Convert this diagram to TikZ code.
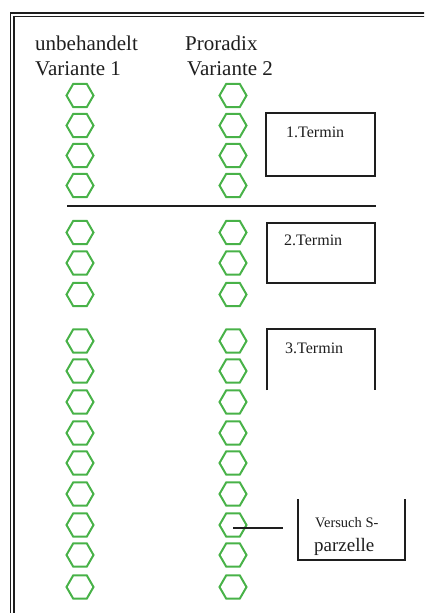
\documentclass[tikz,border=0pt]{standalone}
\usepackage{fontspec}
\setmainfont{Liberation Serif}
\usetikzlibrary{shapes.geometric}
\definecolor{hexgreen}{RGB}{72,178,72}
\definecolor{ink}{RGB}{30,30,30}
\tikzset{
  hexa/.style={draw=hexgreen, line width=2pt, regular polygon, regular polygon sides=6, inner sep=0pt, minimum size=27pt},
  frameline/.style={draw=ink, line width=1.5pt},
  boxline/.style={draw=ink, line width=1.8pt},
  head/.style={font=\fontsize{21}{21}\selectfont, text=ink, inner sep=0pt, anchor=base west},
  termin/.style={font=\fontsize{16}{16}\selectfont, text=ink, inner sep=0pt, anchor=base west}
}
\begin{document}
\begin{tikzpicture}[x=1pt,y=-1pt]
\useasboundingbox (0,0) rectangle (424,613);
\clip (0,0) rectangle (424,613);
% frame (double line, top and left)
\draw[frameline] (10.5,613) -- (10.5,13) -- (430,13);
\draw[frameline] (14,613) -- (14,16.5) -- (430,16.5);
% headings
\node[head] (h1) at (35,50) {unbehandelt};
\node[head] (h2) at (35,75) {Variante 1};
\node[head] (h3) at (185,50) {Proradix};
\node[head] (h4) at (187,75) {Variante 2};
% hexagons
\foreach \y [count=\i] in {95.5,125.5,155.5,185.5,232.5,263,294.5,341,371,402,433,463,494,525,555,587}{
  \node[hexa] (a\i) at (80,\y) {};
  \node[hexa] (b\i) at (233,\y) {};
}
% separator line
\coordinate (sepL) at (67,206);
\coordinate (sepR) at (376,206);
\draw[boxline] (sepL) -- (sepR);
% box 1
\draw[boxline] (266,113) rectangle (375,176);
\node[termin] (t1) at (286,137) {1.Termin};
% box 2
\draw[boxline] (267,223) rectangle (375,283);
\node[termin] (t2) at (284,245) {2.Termin};
% box 3 (open at bottom)
\draw[boxline] (267,390) -- (267,329) -- (375,329) -- (375,390);
\node[termin] (t3) at (285,353) {3.Termin};
% box 4 (open at top)
\draw[boxline] (298,499) -- (298,560) -- (405,560) -- (405,499);
\node[inner sep=0pt, anchor=base west, text=ink, font=\fontsize{14.5}{14.5}\selectfont] (v1) at (315,527) {Versuch S-};
\node[inner sep=0pt, anchor=base west, text=ink, font=\fontsize{19}{19}\selectfont] (v2) at (314,551) {parzelle};
% connector
\coordinate (cEnd) at (283,528);
\draw[boxline] (b14.center |- cEnd) -- (cEnd);
\end{tikzpicture}
\end{document}
